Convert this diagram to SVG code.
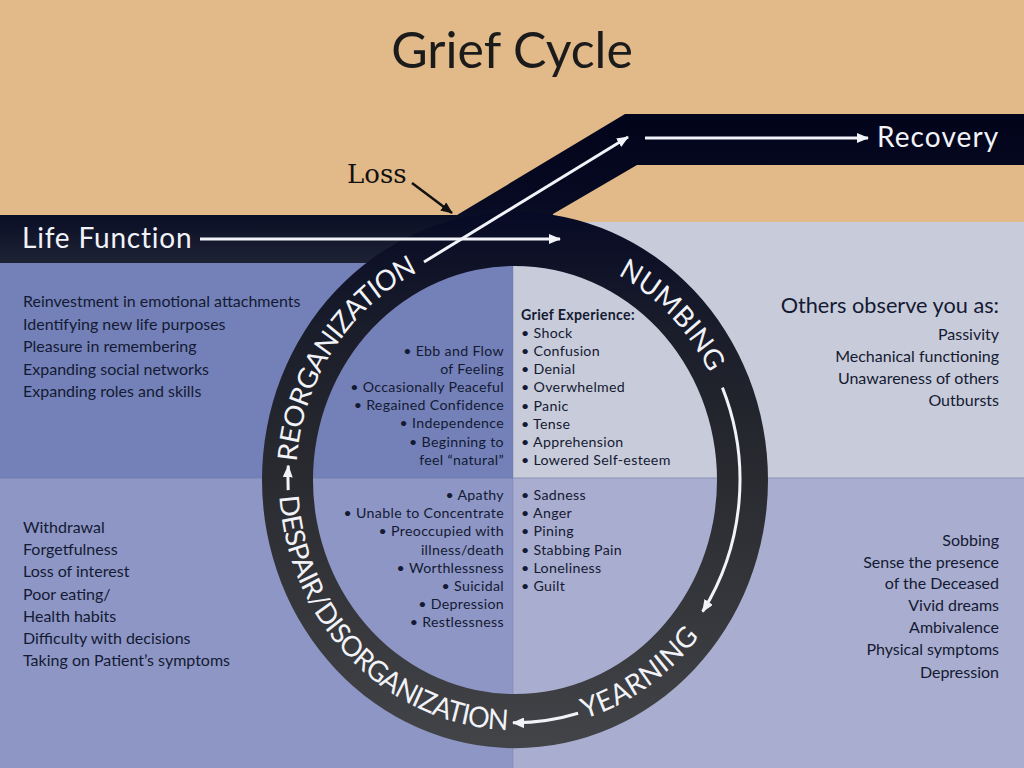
<svg xmlns="http://www.w3.org/2000/svg" width="1024" height="768" viewBox="0 0 1024 768">
<defs>
<style>
.t{font-family:Lato,"Open Sans","Liberation Sans",sans-serif;fill:#141a33}
.body{font-size:16px}
.mid{font-size:14.2px;letter-spacing:0.32px}
.r{text-anchor:end}
.w{fill:#f2f3f8}
.ring{font-family:Lato,"Open Sans","Liberation Sans",sans-serif;font-size:27px;fill:#f2f3f8}
.wl{stroke:#f2f3f8;stroke-width:3;fill:none}
</style>
<marker id="ah" viewBox="0 0 12 10" refX="11" refY="5" markerWidth="12" markerHeight="10" markerUnits="userSpaceOnUse" orient="auto"><path d="M0,0 L12,5 L0,10 Z" fill="#f2f3f8"/></marker>
<marker id="ahb" viewBox="0 0 12 10" refX="11" refY="5" markerWidth="12" markerHeight="10" markerUnits="userSpaceOnUse" orient="auto"><path d="M0,0 L12,5 L0,10 Z" fill="#111"/></marker>
<linearGradient id="band" gradientUnits="userSpaceOnUse" x1="0" y1="114" x2="0" y2="265"><stop offset="0" stop-color="#02041a"/><stop offset="0.6" stop-color="#060a22"/><stop offset="1" stop-color="#1e2335"/></linearGradient>
<linearGradient id="ringg" gradientUnits="userSpaceOnUse" x1="0" y1="-253" x2="0" y2="253"><stop offset="0" stop-color="#060a25"/><stop offset="0.22" stop-color="#1a1d2a"/><stop offset="0.5" stop-color="#2a2b30"/><stop offset="1" stop-color="#424448"/></linearGradient>
<path id="cw" d="M0,219 A219,219 0 1 1 0,-219 A219,219 0 1 1 0,219"/>
<path id="ccw" d="M0,-236 A236,236 0 1 0 0,236 A236,236 0 1 0 0,-236"/>
</defs>

<g id="background">
<rect x="0" y="0" width="1024" height="232" fill="#e2b988"/>
<rect x="513" y="222" width="511" height="256" fill="#c8cbd9"/>
<rect x="0" y="255" width="513" height="223" fill="#7381b8"/>
<rect x="0" y="478" width="513" height="290" fill="#8d96c5"/>
<rect x="513" y="478" width="511" height="290" fill="#a9adcf"/>
<line x1="0" y1="478" x2="1024" y2="478" stroke="#6e77a6" stroke-width="1.2" opacity="0.6"/>
<line x1="513" y1="255" x2="513" y2="768" stroke="#6e77a6" stroke-width="1" opacity="0.4"/>
</g>

<g id="band-path">
<path d="M0,215 L457,215 L625,114 L1024,114 L1024,165 L637,165 L553,214 L553,263 L0,263 Z" fill="url(#band)"/>
</g>

<g id="cycle-ring" transform="translate(515,480) scale(1,1.06)">
<path d="M-253,0 A253,253 0 1 0 253,0 A253,253 0 1 0 -253,0 Z M-202,0 A202,202 0 1 1 202,0 A202,202 0 1 1 -202,0 Z" fill="url(#ringg)" fill-rule="evenodd"/>
<text id="stage-reorganization" class="ring"><textPath href="#cw" startOffset="474" text-anchor="middle" textLength="226" lengthAdjust="spacing">REORGANIZATION</textPath></text>
<text id="stage-numbing" class="ring"><textPath href="#cw" startOffset="861" text-anchor="middle" textLength="132" lengthAdjust="spacing">NUMBING</textPath></text>
<text id="stage-despair" class="ring"><textPath href="#ccw" startOffset="560" text-anchor="middle" textLength="348" lengthAdjust="spacing">DESPAIR/DISORGANIZATION</textPath></text>
<text id="stage-yearning" class="ring"><textPath href="#ccw" startOffset="882" text-anchor="middle" textLength="140" lengthAdjust="spacing">YEARNING</textPath></text>
</g>

<g id="connectors">
<line class="wl" x1="200" y1="239" x2="560" y2="239" marker-end="url(#ah)"/>
<line class="wl" x1="424" y1="262" x2="628" y2="137" marker-end="url(#ah)"/>
<line class="wl" x1="645" y1="138" x2="868" y2="138" marker-end="url(#ah)"/>
<line x1="412" y1="183" x2="452" y2="213" stroke="#111" stroke-width="2.5" marker-end="url(#ahb)"/>
<g transform="translate(515,480) scale(1,1.06)">
<path class="wl" d="M207.4,-87.2 A225,225 0 0 1 187.6,124.2" marker-end="url(#ah)"/>
<path class="wl" d="M63.1,220.1 A229,229 0 0 1 -2,229" marker-end="url(#ah)"/>
<path class="wl" d="M-226.8,9.5 A227,227 0 0 1 -226.7,-13.5" marker-end="url(#ah)"/>
</g>
</g>

<g id="title"><text class="t" x="512" y="68" font-size="50" text-anchor="middle" style="fill:#1b1b1b">Grief Cycle</text></g>
<g id="loss"><text x="347" y="183" font-family="'DejaVu Serif','Liberation Serif',serif" font-size="26" fill="#111">Loss</text></g>
<g id="life-function"><text class="t w" x="22" y="248" font-size="28" letter-spacing="0.8">Life Function</text></g>
<g id="recovery"><text class="t w" x="877" y="147" font-size="28" letter-spacing="1.1">Recovery</text></g>

<g id="reorganization-observed" class="t body">
<text x="23" y="307">Reinvestment in emotional attachments</text>
<text x="23" y="330">Identifying new life purposes</text>
<text x="23" y="352">Pleasure in remembering</text>
<text x="23" y="375">Expanding social networks</text>
<text x="23" y="397">Expanding roles and skills</text>
</g>

<g id="reorganization-experience" class="t mid r">
<text x="504" y="356">• Ebb and Flow</text>
<text x="504" y="374">of Feeling</text>
<text x="504" y="392">• Occasionally Peaceful</text>
<text x="504" y="410">• Regained Confidence</text>
<text x="504" y="428">• Independence</text>
<text x="504" y="447">• Beginning to</text>
<text x="504" y="465">feel “natural”</text>
</g>

<g id="numbing-experience" class="t mid">
<text x="521" y="320" font-weight="700">Grief Experience:</text>
<text x="521" y="338">• Shock</text>
<text x="521" y="356">• Confusion</text>
<text x="521" y="374">• Denial</text>
<text x="521" y="392">• Overwhelmed</text>
<text x="521" y="411">• Panic</text>
<text x="521" y="429">• Tense</text>
<text x="521" y="447">• Apprehension</text>
<text x="521" y="465">• Lowered Self-esteem</text>
</g>

<g id="numbing-observed" class="t body r">
<text x="999" y="313" font-size="21.7">Others observe you as:</text>
<text x="999" y="340">Passivity</text>
<text x="999" y="362">Mechanical functioning</text>
<text x="999" y="384">Unawareness of others</text>
<text x="999" y="406">Outbursts</text>
</g>

<g id="despair-experience" class="t mid r">
<text x="504" y="500">• Apathy</text>
<text x="504" y="518">• Unable to Concentrate</text>
<text x="504" y="536">• Preoccupied with</text>
<text x="504" y="555">illness/death</text>
<text x="504" y="573">• Worthlessness</text>
<text x="504" y="591">• Suicidal</text>
<text x="504" y="609">• Depression</text>
<text x="504" y="627">• Restlessness</text>
</g>

<g id="yearning-experience" class="t mid">
<text x="521" y="500">• Sadness</text>
<text x="521" y="518">• Anger</text>
<text x="521" y="536">• Pining</text>
<text x="521" y="555">• Stabbing Pain</text>
<text x="521" y="573">• Loneliness</text>
<text x="521" y="591">• Guilt</text>
</g>

<g id="despair-observed" class="t body">
<text x="23" y="533">Withdrawal</text>
<text x="23" y="555">Forgetfulness</text>
<text x="23" y="577">Loss of interest</text>
<text x="23" y="600">Poor eating/</text>
<text x="23" y="622">Health habits</text>
<text x="23" y="644">Difficulty with decisions</text>
<text x="23" y="666">Taking on Patient’s symptoms</text>
</g>

<g id="yearning-observed" class="t body r">
<text x="999" y="546">Sobbing</text>
<text x="999" y="568">Sense the presence</text>
<text x="999" y="589">of the Deceased</text>
<text x="999" y="611">Vivid dreams</text>
<text x="999" y="633">Ambivalence</text>
<text x="999" y="655">Physical symptoms</text>
<text x="999" y="678">Depression</text>
</g>
</svg>
